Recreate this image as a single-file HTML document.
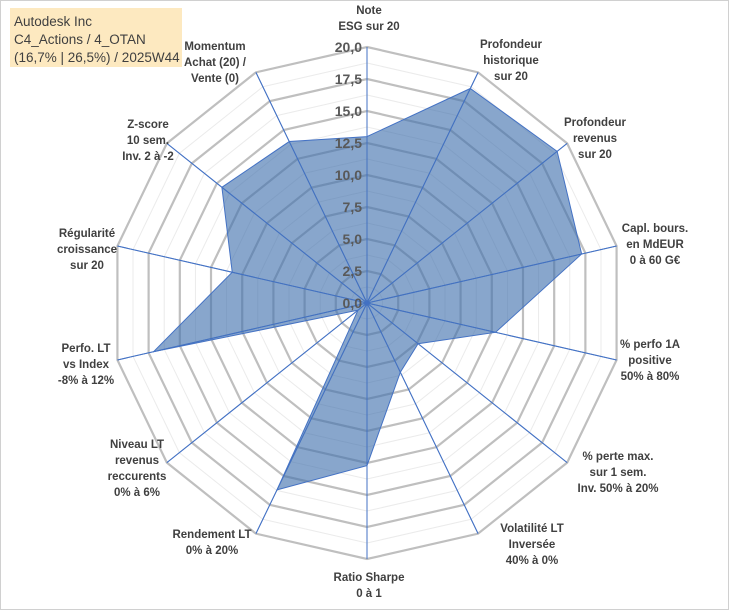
<!DOCTYPE html>
<html><head><meta charset="utf-8"><style>
body{margin:0;background:#fff;}
svg{display:block;font-family:"Liberation Sans",Arial,sans-serif;}
.lb{font-size:11.5px;font-weight:bold;fill:#404040;}
.tk{font-size:14px;font-weight:bold;fill:#595959;}
</style></head><body>
<svg id="c" width="729" height="610">
<rect x="0.5" y="0.5" width="728" height="609" fill="#fff" stroke="#d0d0d0"/>
<rect x="10" y="8" width="172" height="59" fill="#fde9c0"/>
<text x="14" y="26" font-size="13.5" fill="#404040">Autodesk Inc</text>
<text x="14" y="44" font-size="13.5" fill="#404040">C4_Actions / 4_OTAN</text>
<text x="14" y="62" font-size="13.5" fill="#404040">(16,7% | 26,5%) / 2025W44</text>
<g id="grid"></g><g id="plot"></g><g id="labels"></g>
</svg>
<script>
const categories=[["Note","ESG sur 20"],["Profondeur","historique","sur 20"],["Profondeur","revenus","sur 20"],["Capl. bours.","en MdEUR","0 à 60 G€"],["% perfo 1A","positive","50% à 80%"],["% perte max.","sur 1 sem.","Inv. 50% à 20%"],["Volatilité LT","Inversée","40% à 0%"],["Ratio Sharpe","0 à 1"],["Rendement LT","0% à 20%"],["Niveau LT","revenus","reccurents","0% à 6%"],["Perfo. LT","vs Index","-8% à 12%"],["Régularité","croissance","sur 20"],["Z-score","10 sem.","Inv. 2 à -2"],["Momentum","Achat (20) /","Vente (0)"]];
const values=[13.0,18.6,19.0,17.2,10.3,5.1,6.0,12.7,16.2,0.9,17.1,10.8,14.5,14.0];
const ticks=[0,2.5,5,7.5,10,12.5,15,17.5,20];
const tickLabels=["0,0","2,5","5,0","7,5","10,0","12,5","15,0","17,5","20,0"];
const labelPos=[[369,14],[511,48],[595,126],[655,232],[650,348],[618,460],[532,532],[369,581],[212,538],[137,448],[86,352],[87,237],[148,128],[215,50]];
const NS="http://www.w3.org/2000/svg",cx=367,cy=303,R=256,maxV=20,N=categories.length;
function ang(i){return i*2*Math.PI/N;}
function pt(i,v){const r=v/maxV*R;return [cx+r*Math.sin(ang(i)),cy-r*Math.cos(ang(i))];}
function mk(t,a,p){const e=document.createElementNS(NS,t);for(const k in a)e.setAttribute(k,a[k]);p.appendChild(e);return e;}
const g=document.getElementById('grid'),pl=document.getElementById('plot'),lb=document.getElementById('labels');
for(let k=0;k<ticks.length-1;k++){const v=(ticks[k]+ticks[k+1])/2;
 const e=mk('polygon',{points:categories.map((c,i)=>pt(i,v).join(',')).join(' '),fill:'none',stroke:'#ebebeb','stroke-width':1},g);
 }
ticks.forEach((t,k)=>{if(t===0)return;
 const e=mk('polygon',{points:categories.map((c,i)=>pt(i,t).join(',')).join(' '),fill:'none',stroke:'#bfbfbf','stroke-width':2.2},g);
 });
categories.forEach((c,i)=>{const p=pt(i,maxV);
 const e=mk('line',{x1:cx,y1:cy,x2:p[0],y2:p[1],stroke:'#4472c4','stroke-width':1},g);
 });
const area=mk('polygon',{points:values.map((v,i)=>pt(i,v).join(',')).join(' '),fill:'#3f70ad','fill-opacity':0.62,stroke:'#4472c4','stroke-width':1},pl);

categories.forEach((c,i)=>{const p=pt(i,maxV);
 const e=mk('line',{x1:cx,y1:cy,x2:p[0],y2:p[1],stroke:'#4472c4','stroke-width':1,'stroke-opacity':0.8},pl);
 });
ticks.forEach((t,k)=>{const p=pt(0,t);
 const e=mk('text',{x:cx-5,y:p[1]+5,'text-anchor':'end',class:'tk'},lb);e.textContent=tickLabels[k];
 });
categories.forEach((c,i)=>{const [x,y]=labelPos[i];
 const e=mk('text',{x:x,y:y,'text-anchor':'middle',class:'lb'},lb);
 
 c.forEach((s,j)=>{const ts=mk('tspan',{x:x,dy:j?16:0},e);ts.textContent=s;});});
</script>
</body></html>
